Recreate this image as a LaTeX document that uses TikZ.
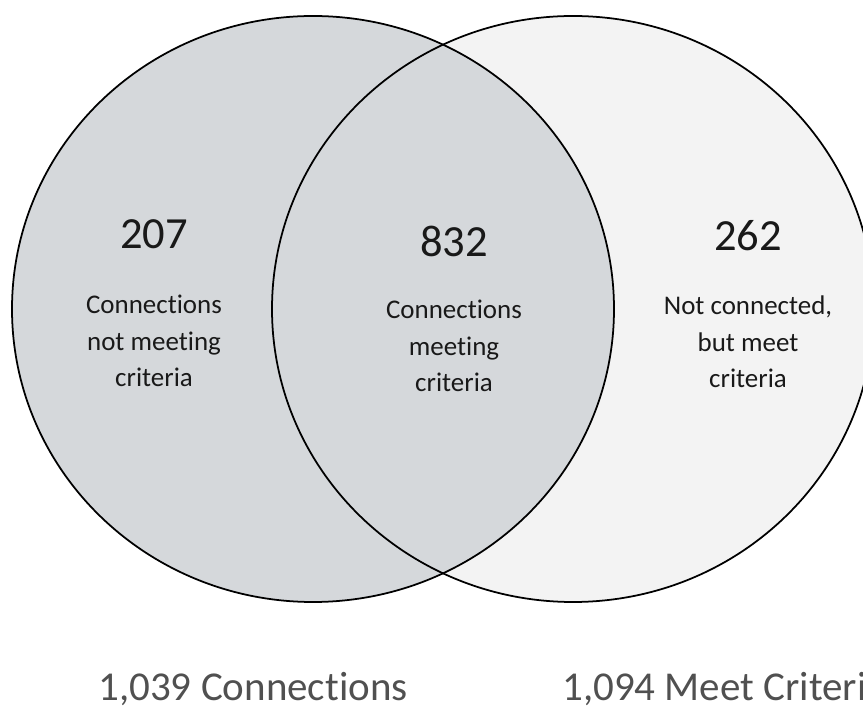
\documentclass[tikz,border=0pt]{standalone}
\usepackage{fontspec}
\setmainfont{Carlito}[Ligatures={NoCommon}]
\definecolor{setgray}{RGB}{213,216,219}
\definecolor{setlight}{RGB}{243,243,243}
\definecolor{totalgray}{RGB}{80,80,80}

\begin{document}
\begin{tikzpicture}[x=0.03cm, y=-0.03cm,
	count/.style={font=\fontsize{38}{40}\selectfont, text=black!90},
	note/.style={font=\fontsize{23}{31}\selectfont, text=black!90, align=center},
	total/.style={font=\fontsize{35}{38}\selectfont, text=totalgray, inner sep=0pt}]
		%%%%% START %%%%%
		
		\clip (0, 0) rectangle (863, 713);
		
		% the two sets
		\fill[setlight] (573, 309) ellipse (301 and 293);
		\fill[setgray] (313, 309) ellipse (301 and 293);
		\draw[line width=1.5pt] (573, 309) ellipse (301 and 293);
		\draw[line width=1.5pt] (313, 309) ellipse (301 and 293);
		
		% left only
		\node[count] (n207) at (154, 234) {207};
		\node[note] (t207) at (154, 341) {Connections\\not meeting\\criteria};
		
		% both
		\node[count] (n832) at (454, 241) {832};
		\node[note] (t832) at (454, 346) {Connections\\meeting\\criteria};
		
		% right only
		\node[count] (n262) at (748, 236) {262};
		\node[note] (t262) at (748, 342) {Not connected,\\but meet\\criteria};
		
		% totals
		\node[total] (conn) at (253, 689) {1,039 Connections};
		\node[total, anchor=west] (meet) at (562, 689) {1,094 Meet Criteria};
		
		%%%%% END %%%%%
\end{tikzpicture}
\end{document}
